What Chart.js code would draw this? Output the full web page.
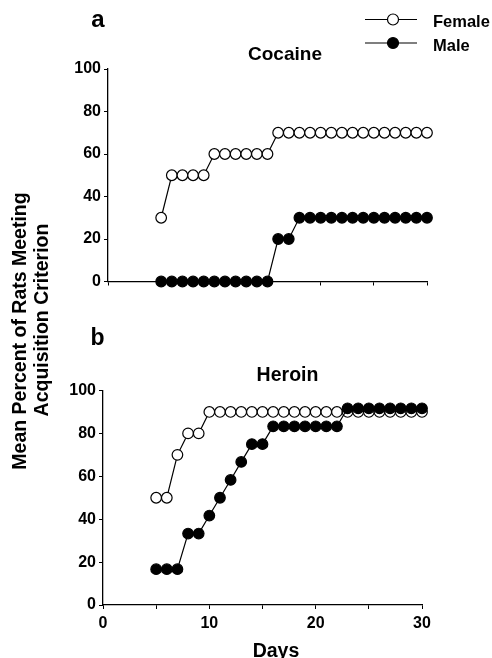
<!DOCTYPE html>
<html>
<head>
<meta charset="utf-8">
<script src="https://cdn.jsdelivr.net/npm/chart.js@4/dist/chart.umd.min.js"></script>
<style>
  html, body { margin: 0; padding: 0; background: #fff; }
  #wrap { position: relative; width: 492px; height: 658px; }
  canvas { position: absolute; left: 0; top: 0; }
</style>
</head>
<body>
<div id="wrap">
  <canvas id="cocaine" width="492" height="658"></canvas>
  <canvas id="heroin" width="492" height="658"></canvas>
</div>
<script>
// data (days 5..30)
const days = [5, 6, 7, 8, 9, 10, 11, 12, 13, 14, 15, 16, 17, 18, 19, 20, 21, 22, 23, 24, 25, 26, 27, 28, 29, 30];
const cocaineFemale = [30, 50, 50, 50, 50, 60, 60, 60, 60, 60, 60, 70, 70, 70, 70, 70, 70, 70, 70, 70, 70, 70, 70, 70, 70, 70];
const cocaineMale   = [0, 0, 0, 0, 0, 0, 0, 0, 0, 0, 0, 20, 20, 30, 30, 30, 30, 30, 30, 30, 30, 30, 30, 30, 30, 30];
const heroinFemale  = [50, 50, 70, 80, 80, 90, 90, 90, 90, 90, 90, 90, 90, 90, 90, 90, 90, 90, 90, 90, 90, 90, 90, 90, 90, 90];
const heroinMale    = [16.7, 16.7, 16.7, 33.3, 33.3, 41.7, 50, 58.3, 66.7, 75, 75, 83.3, 83.3, 83.3, 83.3, 83.3, 83.3, 83.3, 91.7, 91.7, 91.7, 91.7, 91.7, 91.7, 91.7, 91.7];
const seriesNames = ['Female', 'Male'];
const yTicks = [0, 20, 40, 60, 80, 100];
const xTicks = [0, 10, 20, 30];

const FONT = '"Liberation Sans", Arial, Helvetica, sans-serif';

function points(vals) {
    return days.map((d, i) => ({ x: d, y: vals[i] }));
}

function makeDatasets(female, male) {
    return [
        {
            label: seriesNames[0], data: points(female), order: 1,
            borderColor: '#000', borderWidth: 1.2, backgroundColor: '#fff',
            pointRadius: 5.3, pointBorderWidth: 1.2, pointBackgroundColor: '#fff', pointBorderColor: '#000',
            tension: 0, clip: false
        },
        {
            label: seriesNames[1], data: points(male), order: 0,
            borderColor: '#000', borderWidth: 1.2, backgroundColor: '#000',
            pointRadius: 5.3, pointBorderWidth: 1.2, pointBackgroundColor: '#000', pointBorderColor: '#000',
            tension: 0, clip: false
        }
    ];
}

// fixed text drawn on the canvas
function textPlugin(items, withLegend) {
    return {
        id: 'texts',
        afterDraw(chart) {
            const ctx = chart.ctx;
            ctx.save();
            ctx.fillStyle = '#000';
            items.forEach(t => {
                ctx.save();
                ctx.font = `bold ${t.size}px ${FONT}`;
                ctx.textAlign = t.align || 'center';
                ctx.textBaseline = 'alphabetic';
                ctx.translate(t.x, t.y);
                if (t.rot) ctx.rotate(t.rot);
                ctx.fillText(t.text, 0, 0);
                ctx.restore();
            });
            if (withLegend) {
                const rows = [19.5, 43];
                chart.data.datasets.forEach((ds, i) => {
                    const y = rows[i];
                    ctx.strokeStyle = '#000';
                    ctx.lineWidth = 1.2;
                    ctx.beginPath();
                    ctx.moveTo(365, y);
                    ctx.lineTo(417, y);
                    ctx.stroke();
                    ctx.beginPath();
                    ctx.arc(393, y, 5.5, 0, Math.PI * 2);
                    ctx.fillStyle = ds.pointBackgroundColor;
                    ctx.fill();
                    ctx.stroke();
                    ctx.fillStyle = '#000';
                    ctx.font = `bold 16.5px ${FONT}`;
                    ctx.textAlign = 'left';
                    ctx.fillText(ds.label, 433, y + 7.5);
                });
            }
            ctx.restore();
        }
    };
}

function makeChart(id, female, male, area, showXLabels, items, withLegend) {
    const ctx = document.getElementById(id).getContext('2d');
    return new Chart(ctx, {
        type: 'line',
        data: { datasets: makeDatasets(female, male) },
        options: {
            responsive: false,
            animation: false,
            events: [],
            layout: { padding: { top: area.top, right: 492 - area.right, bottom: 0, left: 0 } },
            plugins: { legend: { display: false }, tooltip: { enabled: false }, title: { display: false } },
            scales: {
                x: {
                    type: 'linear', min: 0, max: 30,
                    afterFit: s => { s.height = 658 - area.bottom; },
                    border: { color: '#000', width: 1.3 },
                    grid: { drawOnChartArea: false, drawTicks: true, tickLength: 4, tickColor: '#000' },
                    ticks: {
                        stepSize: 5, color: '#000', padding: 5,
                        font: { family: FONT, size: 16, weight: 'bold' },
                        callback: v => (showXLabels && xTicks.includes(v)) ? String(v) : ''
                    }
                },
                y: {
                    type: 'linear', min: 0, max: 100,
                    afterFit: s => { s.width = area.left; },
                    border: { color: '#000', width: 1.3 },
                    grid: { drawOnChartArea: false, drawTicks: true, tickLength: 4, tickColor: '#000' },
                    ticks: {
                        stepSize: 10, color: '#000', padding: 3,
                        font: { family: FONT, size: 16, weight: 'bold' },
                        callback: v => yTicks.includes(v) ? String(v) : ''
                    }
                }
            }
        },
        plugins: [textPlugin(items, withLegend)]
    });
}

makeChart('cocaine', cocaineFemale, cocaineMale,
    { left: 108, right: 427, top: 69, bottom: 281.5 }, false,
    [
        { text: 'a', x: 98, y: 26.5, size: 24 },
        { text: 'Cocaine', x: 285, y: 59.5, size: 19 },
        { text: 'Mean Percent of Rats Meeting', x: 25.5, y: 331, size: 19.5, rot: -Math.PI / 2 },
        { text: 'Acquisition Criterion', x: 47.5, y: 320, size: 19.5, rot: -Math.PI / 2 }
    ], true);

makeChart('heroin', heroinFemale, heroinMale,
    { left: 103, right: 422, top: 390.5, bottom: 605 }, true,
    [
        { text: 'b', x: 97.5, y: 345, size: 23 },
        { text: 'Heroin', x: 287.5, y: 381, size: 19.5 },
        { text: 'Days', x: 276, y: 656.5, size: 19.5 }
    ], false);
</script>
</body>
</html>
